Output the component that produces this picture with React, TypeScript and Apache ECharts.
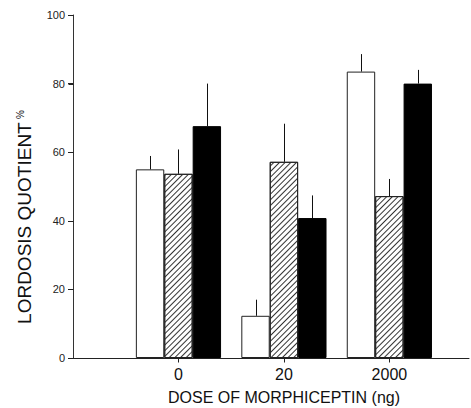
import { useEffect, useRef } from "react";
import * as echarts from "echarts";

const doses = ["0", "20", "2000"];
const whiteValues = [55, 12.3, 83.5];
const whiteErrors = [58.9, 17, 88.6];
const hatchedValues = [53.7, 57.2, 47.2];
const hatchedErrors = [60.8, 68.3, 52.2];
const blackValues = [67.6, 40.8, 80];
const blackErrors = [80, 47.4, 84];
const yTickValues = [0, 20, 40, 60, 80, 100];

const BAR_W = 28.4;
const FONT = "Liberation Sans, Arial, Helvetica, sans-serif";

export default function App() {
  const ref = useRef<HTMLDivElement>(null);
  useEffect(() => {
    if (!ref.current) return;
    const chart = echarts.init(ref.current, null, { renderer: "svg" });
    const seriesVals = [whiteValues, hatchedValues, blackValues];
    const seriesErr = [whiteErrors, hatchedErrors, blackErrors];
    const errData: number[][] = [];
    seriesVals.forEach((vals, s) => {
      vals.forEach((v, i) => errData.push([i + 1, v, seriesErr[s][i], s]));
    });
    // axis marks: kind 0 = y tick, 1 = x tick, 2 = y axis line
    const axisMarks: number[][] = [];
    axisMarks.push([0, yTickValues[yTickValues.length - 1], 2]);
    yTickValues.forEach((v) => axisMarks.push([0, v, 0]));
    doses.forEach((_d, i) => axisMarks.push([i + 1, yTickValues[0], 1]));

    const barBase = {
      type: "bar" as const,
      barWidth: BAR_W,
      barGap: "0%",
    };
    chart.setOption({
      animation: false,
      grid: { left: 73, right: 2, top: 15, bottom: 50 },
      xAxis: {
        type: "value",
        min: 0,
        max: 3.755,
        interval: 1,
        splitLine: { show: false },
        axisLine: { show: true, lineStyle: { color: "#222", width: 1 } },
        axisTick: { show: false },
        axisLabel: {
          formatter: (v: number) => doses[Math.round(v) - 1] ?? "",
          fontSize: 16,
          fontFamily: FONT,
          color: "#111",
          showMaxLabel: false,
        },
      },
      yAxis: {
        type: "value",
        min: 0,
        max: 100,
        interval: 20,
        splitLine: { show: false },
        axisLine: { show: true, lineStyle: { color: "#333", width: 1 } },
        axisTick: { show: true, length: 5, lineStyle: { color: "#222", width: 1 } },
        axisLabel: {
          fontSize: 11,
          fontFamily: FONT,
          color: "#222",
        },
      },
      graphic: [
        {
          type: "text",
          x: 24,
          y: 217,
          rotation: Math.PI / 2,
          style: {
            text: "{a|LORDOSIS QUOTIENT} {b|%}",
            align: "center",
            verticalAlign: "middle",
            fill: "#111",
            rich: {
              a: { fontSize: 19, fontFamily: FONT, fill: "#111" },
              b: { fontSize: 10, fontFamily: FONT, fill: "#111", padding: [0, 0, 8, 0] },
            },
          },
        },
        {
          type: "text",
          x: 284,
          y: 397,
          style: {
            text: "DOSE OF MORPHICEPTIN (ng)",
            align: "center",
            verticalAlign: "middle",
            fontSize: 16,
            fontFamily: FONT,
            fill: "#111",
          },
        },
      ],
      series: [
        {
          ...barBase,
          name: "white",
          data: whiteValues.map((v, i) => [i + 1, v]),
          itemStyle: { color: "#fff", borderColor: "#222", borderWidth: 1 },
        },
        {
          ...barBase,
          name: "hatched",
          data: hatchedValues.map((v, i) => [i + 1, v]),
          itemStyle: {
            color: "#fff",
            borderColor: "#222",
            borderWidth: 1,
            decal: {
              symbol: "rect",
              symbolSize: 1,
              color: "#333",
              dashArrayX: [1, 0],
              dashArrayY: [1, 2.5],
              rotation: -Math.PI / 4,
            },
          },
        },
        {
          ...barBase,
          name: "black",
          data: blackValues.map((v, i) => [i + 1, v]),
          itemStyle: { color: "#000", borderColor: "#000", borderWidth: 1 },
        },
        {
          type: "custom",
          name: "error",
          data: errData,
          encode: { x: 0, y: [1, 2] },
          z: 5,
          renderItem: (_params: any, api: any) => {
            const x = api.value(0);
            const p0 = api.coord([x, api.value(1)]);
            const p1 = api.coord([x, api.value(2)]);
            const off = (api.value(3) - 1) * BAR_W;
            const px = Math.round(p0[0] + off) + 0.5;
            return {
              type: "line",
              shape: { x1: px, y1: p0[1], x2: px, y2: p1[1] },
              style: { stroke: "#111", lineWidth: 1 },
            };
          },
        },
        {
          type: "custom",
          name: "axes",
          data: axisMarks,
          encode: { x: 0, y: 1 },
          clip: false,
          silent: true,
          z: 6,
          renderItem: (_params: any, api: any) => {
            const kind = api.value(2);
            const p = api.coord([api.value(0), api.value(1)]);
            const px = Math.round(p[0]) + 0.5;
            const py = Math.round(p[1]) + 0.5;
            if (kind === 2) {
              const b = api.coord([api.value(0), yTickValues[0]]);
              return {
                type: "line",
                shape: { x1: px, y1: Math.round(b[1]) + 0.5, x2: px, y2: p[1] },
                style: { stroke: "#333", lineWidth: 1 },
              };
            }
            if (kind === 0) {
              return {
                type: "line",
                shape: { x1: px - 5, y1: py, x2: px, y2: py },
                style: { stroke: "#222", lineWidth: 1 },
              };
            }
            return {
              type: "line",
              shape: { x1: px, y1: py, x2: px, y2: py + 4 },
              style: { stroke: "#222", lineWidth: 1 },
            };
          },
        },
      ],
    });
    return () => chart.dispose();
  }, []);
  return (
    <div
      ref={ref}
      style={{ position: "fixed", left: 0, top: 0, width: 471, height: 408, background: "#fff" }}
    />
  );
}
